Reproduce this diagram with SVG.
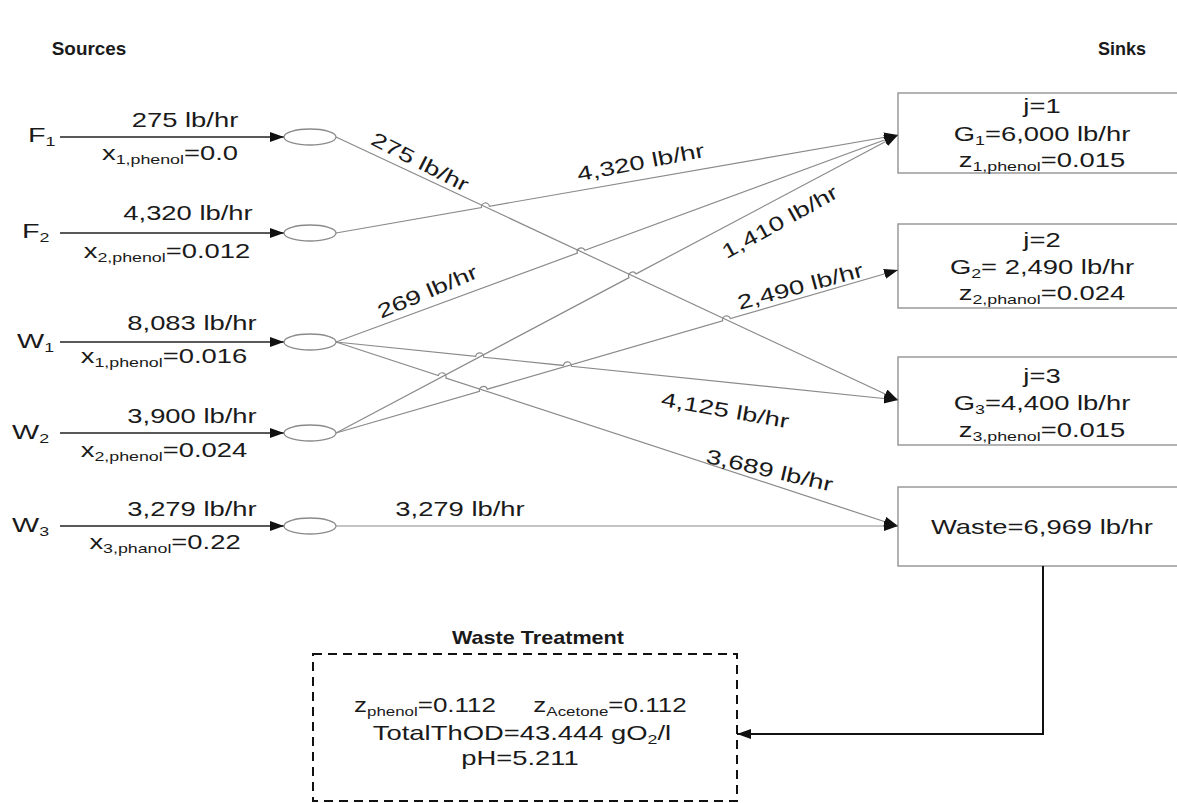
<svg xmlns="http://www.w3.org/2000/svg" width="1177" height="803" viewBox="0 0 1177 803">
<style>
text{font-family:"Liberation Sans",Arial,sans-serif;font-size:20px;fill:#1a1a1a;text-anchor:middle}
.b{font-weight:bold;font-size:18px}
.l{text-anchor:start;font-size:21px}
.s{font-size:13px}
.in{stroke:#222;stroke-width:1.6;fill:none}
.c{stroke:#8a8a8a;stroke-width:1.2;fill:none}
.node{fill:#fff;stroke:#8a8a8a;stroke-width:1.3}
.box{fill:#fff;stroke:#999;stroke-width:1.5}
</style>
<defs>
<marker id="ah" markerUnits="userSpaceOnUse" markerWidth="16" markerHeight="12" refX="14" refY="5" orient="auto"><path d="M0,0 L14,5 L0,10 z" fill="#111"/></marker>
</defs>
<rect width="1177" height="803" fill="#fff"/>

<g id="titles">
<text class="b" transform="translate(89,55) scale(1.05,1)">Sources</text>
<text class="b" transform="translate(1122,55) scale(1.0,1)">Sinks</text>
<text class="b" transform="translate(538,644) scale(1.2,1)">Waste Treatment</text>
</g>

<g id="F1">
<text class="l" transform="translate(28,142) scale(1.37,1)">F<tspan class="s" dy="4">1</tspan></text>
<path class="in" d="M60,137 L284,137" marker-end="url(#ah)"/>
<ellipse class="node" cx="310" cy="137" rx="26" ry="8"/>
<text transform="translate(185,127) scale(1.37,1)">275 lb/hr</text>
<text transform="translate(170,160) scale(1.37,1)">x<tspan class="s" dy="4">1,phenol</tspan><tspan dy="-4">=0.0</tspan></text>
</g>

<g id="F2">
<text class="l" transform="translate(22,238) scale(1.37,1)">F<tspan class="s" dy="4">2</tspan></text>
<path class="in" d="M60,233 L284,233" marker-end="url(#ah)"/>
<ellipse class="node" cx="310" cy="233" rx="26" ry="8"/>
<text transform="translate(188,220) scale(1.37,1)">4,320 lb/hr</text>
<text transform="translate(167,258) scale(1.37,1)">x<tspan class="s" dy="4">2,phenol</tspan><tspan dy="-4">=0.012</tspan></text>
</g>

<g id="W1">
<text class="l" transform="translate(17,348) scale(1.37,1)">W<tspan class="s" dy="4">1</tspan></text>
<path class="in" d="M60,342 L284,342" marker-end="url(#ah)"/>
<ellipse class="node" cx="310" cy="342" rx="26" ry="8"/>
<text transform="translate(192,330) scale(1.37,1)">8,083 lb/hr</text>
<text transform="translate(164,363) scale(1.37,1)">x<tspan class="s" dy="4">1,phenol</tspan><tspan dy="-4">=0.016</tspan></text>
</g>

<g id="W2">
<text class="l" transform="translate(12,439) scale(1.37,1)">W<tspan class="s" dy="4">2</tspan></text>
<path class="in" d="M60,433 L284,433" marker-end="url(#ah)"/>
<ellipse class="node" cx="310" cy="433" rx="26" ry="8"/>
<text transform="translate(192,423) scale(1.37,1)">3,900 lb/hr</text>
<text transform="translate(164,457) scale(1.37,1)">x<tspan class="s" dy="4">2,phenol</tspan><tspan dy="-4">=0.024</tspan></text>
</g>

<g id="W3">
<text class="l" transform="translate(12,532) scale(1.37,1)">W<tspan class="s" dy="4">3</tspan></text>
<path class="in" d="M60,526 L284,526" marker-end="url(#ah)"/>
<ellipse class="node" cx="310" cy="526" rx="26" ry="8"/>
<text transform="translate(192,516) scale(1.37,1)">3,279 lb/hr</text>
<text transform="translate(165,549) scale(1.37,1)">x<tspan class="s" dy="4">3,phanol</tspan><tspan dy="-4">=0.22</tspan></text>
</g>

<g id="sink1">
<rect class="box" x="898" y="93" width="290" height="80"/>
<text transform="translate(1042,113) scale(1.37,1)">j=1</text>
<text transform="translate(1042,141) scale(1.37,1)">G<tspan class="s" dy="4">1</tspan><tspan dy="-4">=6,000 lb/hr</tspan></text>
<text transform="translate(1042,167) scale(1.37,1)">z<tspan class="s" dy="4">1,phenol</tspan><tspan dy="-4">=0.015</tspan></text>
</g>

<g id="sink2">
<rect class="box" x="898" y="224" width="290" height="84"/>
<text transform="translate(1042,247) scale(1.37,1)">j=2</text>
<text transform="translate(1042,274) scale(1.37,1)">G<tspan class="s" dy="4">2</tspan><tspan dy="-4">= 2,490 lb/hr</tspan></text>
<text transform="translate(1042,300) scale(1.37,1)">z<tspan class="s" dy="4">2,phanol</tspan><tspan dy="-4">=0.024</tspan></text>
</g>

<g id="sink3">
<rect class="box" x="898" y="357" width="290" height="88"/>
<text transform="translate(1042,383) scale(1.37,1)">j=3</text>
<text transform="translate(1042,410) scale(1.37,1)">G<tspan class="s" dy="4">3</tspan><tspan dy="-4">=4,400 lb/hr</tspan></text>
<text transform="translate(1042,437) scale(1.37,1)">z<tspan class="s" dy="4">3,phenol</tspan><tspan dy="-4">=0.015</tspan></text>
</g>

<g id="waste">
<rect class="box" x="898" y="487" width="290" height="79"/>
<text transform="translate(1042,534) scale(1.37,1)">Waste=6,969 lb/hr</text>
</g>

<g id="treatment">
<rect x="313" y="654" width="424" height="147" fill="none" stroke="#111" stroke-width="2" stroke-dasharray="9,6"/>
<text transform="translate(425,712) scale(1.3,1)">z<tspan class="s" dy="4">phenol</tspan><tspan dy="-4">=0.112</tspan></text>
<text transform="translate(610,712) scale(1.3,1)">z<tspan class="s" dy="4">Acetone</tspan><tspan dy="-4">=0.112</tspan></text>
<text transform="translate(522,740) scale(1.37,1)">TotalThOD=43.444 gO<tspan class="s" dy="4">2</tspan><tspan dy="-4">/l</tspan></text>
<text transform="translate(520,765) scale(1.37,1)">pH=5.211</text>
</g>

<g id="connectors">
<path class="c" d="M336,137 L898,400" marker-end="url(#ah)"/>
<path class="c" d="M336,233 L481.51,207.63 A4,4 0 0 1 489.39,206.25 L898,135" marker-end="url(#ah)"/>
<path class="c" d="M336,342 L577.38,253.09 A4,4 0 0 1 584.88,250.33 L898,135" marker-end="url(#ah)"/>
<path class="c" d="M336,433 L629.00,277.64 A4,4 0 0 1 636.06,273.90 L898,135" marker-end="url(#ah)"/>
<path class="c" d="M336,433 L479.54,391.36 A4,4 0 0 1 487.22,389.14 L722.66,320.85 A4,4 0 0 1 730.34,318.63 L898,270" marker-end="url(#ah)"/>
<path class="c" d="M336,342 L475.68,356.42 A4,4 0 0 1 483.64,357.24 L563.43,365.47 A4,4 0 0 1 571.39,366.29 L898,400" marker-end="url(#ah)"/>
<path class="c" d="M336,342 L438.30,375.50 A4,4 0 0 1 445.90,377.99 L898,526" marker-end="url(#ah)"/>
<path class="c" d="M336,526 L898,526" marker-end="url(#ah)"/>
<path d="M1043,566 L1043,734 L737,734" fill="none" stroke="#111" stroke-width="2" marker-end="url(#ah)"/>
<text transform="translate(417,168) rotate(27) scale(1.37,1)">275 lb/hr</text>
<text transform="translate(642,169) rotate(-11) scale(1.37,1)">4,320 lb/hr</text>
<text transform="translate(430,298) rotate(-23) scale(1.37,1)">269 lb/hr</text>
<text transform="translate(783,228) rotate(-29) scale(1.37,1)">1,410 lb/hr</text>
<text transform="translate(802,293) rotate(-15) scale(1.37,1)">2,490 lb/hr</text>
<text transform="translate(724,417) rotate(10) scale(1.37,1)">4,125 lb/hr</text>
<text transform="translate(768,477) rotate(13) scale(1.37,1)">3,689 lb/hr</text>
<text transform="translate(460,516) scale(1.37,1)">3,279 lb/hr</text>
</g>
</svg>
